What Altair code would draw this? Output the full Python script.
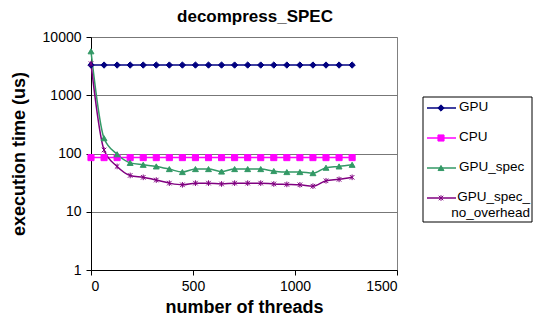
import altair as alt
import pandas as pd

threads = [0, 64, 128, 192, 256, 320, 384, 448, 512, 576, 640, 704, 768, 832, 896, 960, 1024, 1088, 1152, 1216, 1280]
gpu = [3300] * 21
cpu = [85] * 21
gpu_spec = [5680, 183, 97, 69, 64, 60, 54, 48, 54, 54, 49, 54, 54, 54, 50, 48, 48, 46, 57, 60, 64]
gpu_spec_no = [3480, 115, 60, 42, 39, 35, 31, 29, 31, 31, 30, 31, 31, 31, 30, 29.5, 29, 27.5, 34, 36, 39]

names = ["GPU", "CPU", "GPU_spec", "GPU_spec_no_overhead"]
legend_labels = ["GPU", "CPU", "GPU_spec", "GPU_spec_\nno_overhead"]
colors = ["#000080", "#FF00FF", "#339966", "#800080"]
star = "M0,-1L0,1M-0.8,-0.8L0.8,0.8M-0.8,0.8L0.8,-0.8"
shapes = ["diamond", "square", "triangle-up", star]
sizes = [40, 32, 44, 48]

rows = []
for name, vals in zip(names, [gpu, cpu, gpu_spec, gpu_spec_no]):
    for t, v in zip(threads, vals):
        rows.append({"threads": t, "time": v, "series": name})
df = pd.DataFrame(rows)

FONT = "Liberation Sans"
cscale = alt.Scale(domain=names, range=colors)
sscale = alt.Scale(domain=names, range=shapes)
zscale = alt.Scale(domain=names, range=sizes)

x = alt.X("threads:Q", scale=alt.Scale(domain=[0, 1500]),
          axis=alt.Axis(values=[0, 500, 1000, 1500], format="d", grid=False, title="number of threads",
                        domainColor="black", tickColor="black", tickSize=5,
                        labelFont=FONT, labelFontSize=14, labelColor="black",
                        titleFont=FONT, titleFontSize=18, titleFontWeight="bold",
                        titleColor="black", labelPadding=4, titlePadding=5))
y = alt.Y("time:Q", scale=alt.Scale(type="log", domain=[1, 10000]),
          axis=alt.Axis(values=[1, 10, 100, 1000, 10000], format="d", grid=True,
                        gridColor="#777777", gridOpacity=1, title="execution time (us)",
                        domainColor="black", tickColor="black", tickSize=5,
                        labelFont=FONT, labelFontSize=14, labelColor="black",
                        titleFont=FONT, titleFontSize=18, titleFontWeight="bold",
                        titleColor="black", labelPadding=5, titlePadding=14))

base = alt.Chart(df)
lines = base.mark_line(interpolate="monotone", strokeWidth=1.5).encode(
    x=x, y=y,
    color=alt.Color("series:N", scale=cscale, legend=None),
    detail="series:N",
)
points = base.mark_point(filled=True, opacity=1, strokeWidth=1).encode(
    x=x, y=y,
    fill=alt.Fill("series:N", scale=cscale, legend=None),
    stroke=alt.Stroke("series:N", scale=cscale, legend=None),
    shape=alt.Shape("series:N", scale=sscale, legend=None),
    size=alt.Size("series:N", scale=zscale, legend=None),
)
main = alt.layer(lines, points)

# custom legend (Excel style box with line + marker samples)
leg_df = pd.DataFrame({"series": names, "label": legend_labels,
                       "wrapped": [False, False, False, True]})
LX0 = 332
ly = alt.Y("series:N", scale=alt.Scale(domain=names, type="point", range=[71, 161], padding=0),
           axis=None)
lbox = alt.Chart(pd.DataFrame({"k": [0]})).mark_rect(
    fill="white", stroke="black", strokeWidth=1).encode(
    x=alt.value(LX0), x2=alt.value(LX0 + 109), y=alt.value(60), y2=alt.value(185),
)
lrule = alt.Chart(leg_df).mark_rule(strokeWidth=1.5).encode(
    x=alt.value(LX0 + 4), x2=alt.value(LX0 + 33), y=ly,
    color=alt.Color("series:N", scale=cscale, legend=None),
)
lpt = alt.Chart(leg_df).mark_point(filled=True, opacity=1, strokeWidth=1).encode(
    x=alt.value(LX0 + 18), y=ly,
    fill=alt.Fill("series:N", scale=cscale, legend=None),
    stroke=alt.Stroke("series:N", scale=cscale, legend=None),
    shape=alt.Shape("series:N", scale=sscale, legend=None),
    size=alt.Size("series:N", scale=zscale, legend=None),
)
ltext = alt.Chart(leg_df).transform_filter("!datum.wrapped").mark_text(
    align="left", baseline="top", dy=-8, font=FONT, fontSize=13.5, color="black").encode(
    x=alt.value(LX0 + 36), y=ly, text="label:N",
)
ltext2 = alt.Chart(leg_df).transform_filter("datum.wrapped").mark_text(
    align="right", baseline="top", dy=-8, lineBreak="\n", font=FONT, fontSize=13.5,
    color="black", lineHeight=16).encode(
    x=alt.value(LX0 + 107), y=ly, text="label:N",
)
legend = alt.layer(lbox, lrule, lpt, ltext, ltext2)

chart = alt.layer(main, legend).resolve_scale(
    y="independent"
).properties(
    width=306, height=233,
    background="white",
    padding={"left": 2, "top": 0, "right": 0, "bottom": 0},
    title=alt.TitleParams("decompress_SPEC", font=FONT, fontSize=17, fontWeight="bold",
                          color="black", anchor="middle", frame="group", offset=-3,
                          dy=-7, dx=11),
).configure_view(stroke="#808080", strokeWidth=1)

chart.save("out.html", embed_options={"renderer": "svg", "actions": False})
